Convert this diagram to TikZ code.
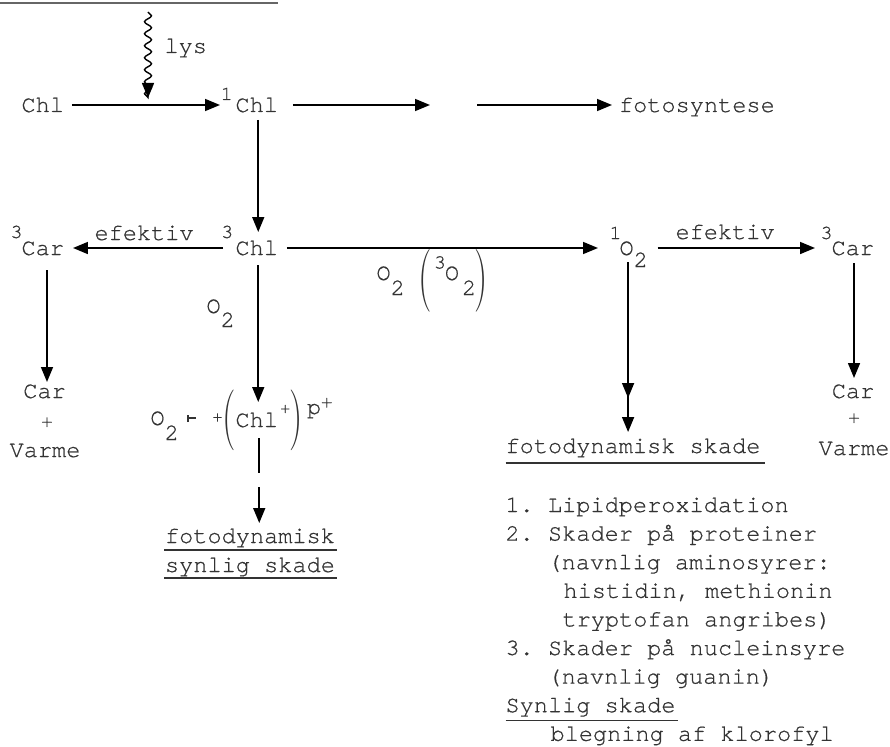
\documentclass[tikz,border=0pt]{standalone}
\usepackage{fontspec}
\setmonofont{TeX Gyre Cursor}[FakeBold=0.6]
\usepackage{graphicx}
\usetikzlibrary{arrows.meta,decorations.pathmorphing}
\newcommand\mono{\ttfamily\fontsize{23.6}{28.6}\selectfont\frenchspacing}
\newcommand\Sp[2][13pt]{\raisebox{#1}{\fontsize{20}{20}\selectfont #2}}
\newcommand\Sb[2][-12pt]{\raisebox{#1}{#2}}
\newcommand\Pl[2][0pt]{\raisebox{#1}{\fontsize{#2}{#2}\selectfont +}}
\newcommand\Par[3]{\raisebox{#1}{\scalebox{1.6}[#2]{\rmfamily #3}}}
\begin{document}
\begin{tikzpicture}[x=1pt,y=-1pt,
 txt/.style={inner sep=0pt,outer sep=0pt,anchor=base west,font=\mono,text=black!80,text height=14pt,text depth=0pt},
 ctr/.style={txt,anchor=base},
 arr/.style={line width=1.6pt,-{Triangle[length=15pt,width=12pt]}},
 ul/.style={line width=1.3pt,black!80},
 wavy/.style={line width=1.4pt,decorate,decoration={snake,amplitude=3.5pt,segment length=12pt,post length=3pt},-{Triangle[length=15pt,width=12pt]}}]
\useasboundingbox (0,0) rectangle (890,746);
% top rule (underline of cut heading)
\draw[line width=1.2pt,black!60] (0,3) -- (278,3);
% nodes
\node[txt] (chl) at (21.5,112) {Chl};
\node[txt] (chlS) at (235.5,112) {\llap{\Sp[12pt]{1}\kern2.8pt}Chl};
\node[txt] (foto) at (619,112) {fotosyntese};
\node[txt] (lys) at (164.5,53) {lys};
\node[txt] (chlT) at (235.5,255) {\llap{\Sp[17pt]{3}\kern2.3pt}Chl};
\node[txt] (carT) at (21.5,255) {\llap{\Sp[17pt]{3}\kern-1pt}Car};
\node[txt] (effA) at (94.5,240) {efektiv};
\node[txt] (o2T) at (619.5,255) {\llap{\Sp[16pt]{1}\kern-2pt}O\rlap{\Sb{2}}};
\node[txt] (effB) at (675.5,239) {efektiv};
\node[txt] (carT2) at (831.5,255) {\llap{\Sp[16pt]{3}\kern-1pt}Car};
\node[ctr] (carB) at (44.5,398) {Car};
\node[ctr] (plB) at (47,427) {\Pl{19}};
\node[ctr] (varB) at (45,457) {Varme};
\node[ctr] (carB2) at (853,398) {Car};
\node[ctr] (plB2) at (854,423) {\Pl{19}};
\node[ctr] (varB2) at (854,455) {Varme};
\node[txt] (o2lab) at (206.5,313) {O\Sb[-14pt]{2}};
\node[txt] (o2mid) at (376.5,280) {O\Sb[-15pt]{2}\kern14pt\Par{-16.5pt}{2.66}{(}\kern1.7pt\Sp[11.5pt]{3}\kern-1pt O\kern3pt\Sb[-15pt]{2}\kern-1.5pt\Par{-16.5pt}{2.66}{)}};
\node[txt] (o2rad) at (150.5,425) {O\Sb[-15pt]{2}\kern8.5pt\rule[3pt]{1.6pt}{7pt}\rule[6pt]{7pt}{2.4pt}};
\node[ctr] (plus) at (217.5,421.5) {\Pl{16}};
\node[txt] (chlP) at (235.5,427) {\llap{\Par{-8pt}{2.575}{(}\kern-0.8pt}Chl\rlap{\kern2.5pt\Pl[14pt]{16}\kern-0.5pt\Par{-8pt}{2.575}{)}\kern4pt\raisebox{13pt}{p\Pl[6.5pt]{19}}}};
\node[txt] (fdA) at (165,543) {fotodynamisk};
\node[txt] (fdB) at (165,572) {synlig skade};
\node[txt] (fds) at (505.5,453) {fotodynamisk skade};
\node[txt] (L1) at (505.5,512) {1. Lipidperoxidation};
\node[txt] (L2) at (505.5,540.6) {2. Skader på proteiner};
\node[txt] (L3) at (547.5,569.2) {(navnlig aminosyrer:};
\node[txt] (L4) at (563.5,597.8) {histidin, methionin};
\node[txt] (L5) at (562.5,626.4) {tryptofan angribes)};
\node[txt] (L6) at (505.5,655) {3. Skader på nucleinsyre};
\node[txt] (L7) at (547.5,683.6) {(navnlig guanin)};
\node[txt] (syn) at (505.5,712.2) {Synlig skade};
\node[txt] (bleg) at (550.5,740.8) {blegning af klorofyl};
% underlines
\draw[ul] ([shift={(-1pt,-7pt)}]fdA.base west) -- ([shift={(2pt,-7pt)}]fdA.base east);
\draw[ul] ([shift={(-1pt,-6pt)}]fdB.base west) -- ([shift={(2pt,-6pt)}]fdB.base east);
\draw[ul] ([shift={(0pt,-10pt)}]fds.base west) -- ([shift={(5pt,-10pt)}]fds.base east);
\draw[ul] ([shift={(0pt,-8pt)}]syn.base west) -- ([shift={(3pt,-8pt)}]syn.base east);
% connectors
\coordinate (g1) at (430,105);
\coordinate (g2) at (477,105);
\coordinate (lysTop) at (148,12);
\coordinate (dbl) at (0,398);
\draw[arr,shorten <=8pt,shorten >=15.5pt] (chl.east) -- (chlS.west);
\draw[arr,shorten <=15pt] (chlS.east) -- (g1);
\draw[arr,shorten >=7pt] (g2) -- (foto.west);
\draw[wavy,shorten >=7pt] (lysTop) -- (lysTop |- chl.east);
\draw[arr,shorten <=8pt,shorten >=9pt] ([xshift=1.5pt]chlS.south) -- ([xshift=1.5pt]chlT.north);
\draw[arr,shorten <=12.5pt,shorten >=9pt] (chlT.west) -- (carT.east);
\draw[arr,shorten <=15pt,shorten >=2pt] (carT.south -| plB) -- (carB.north -| plB);
\draw[arr,shorten <=10pt,shorten >=11pt] ([xshift=1.5pt]chlT.south) -- ([xshift=1.5pt]chlP.north);
\draw[arr,shorten <=11pt,shorten >=6pt,dash pattern=on 35pt off 14pt on 100pt] ([xshift=2.5pt]chlP.south) -- ([xshift=2.5pt]chlP.south |- fdA.north);
\draw[arr,shorten <=9pt,shorten >=21.5pt] (chlT.east) -- (o2T.west);
\draw[arr,shorten <=24pt,shorten >=16.5pt] (o2T.east) -- (carT2.west);
\draw[arr,shorten <=8pt,shorten >=6pt] (carT2.south -| plB2) -- (carB2.north -| plB2);
\draw[arr,shorten <=7pt,shorten >=7pt] ([xshift=1.5pt]o2T.south) -- ([xshift=1.5pt]o2T.south |- fds.north);
\draw[arr,shorten <=7pt] ([xshift=1.5pt]o2T.south) -- ([xshift=1.5pt]o2T.south |- dbl);
\end{tikzpicture}
\end{document}
